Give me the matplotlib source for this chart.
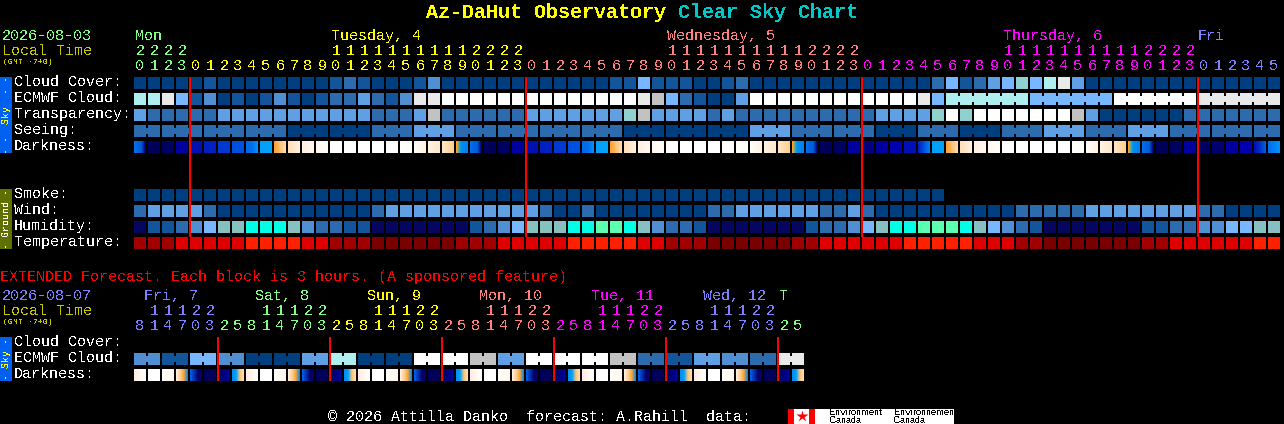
import numpy as np
import matplotlib
matplotlib.use('Agg')
import matplotlib.pyplot as plt
from matplotlib.patches import Rectangle
from matplotlib.colors import to_rgb

plt.rcParams['font.family'] = ['Liberation Mono', 'DejaVu Sans Mono']
plt.rcParams['text.antialiased'] = False
plt.rcParams['text.hinting'] = 'native'
plt.rcParams['text.hinting_factor'] = 1

# 82 one hour columns, first one is 20h on Monday
hours = [20, 21, 22, 23] + list(range(24)) + list(range(24)) + list(range(24)) + [0, 1, 2, 3, 4, 5]

# sky levels, they index into sky_colors
sky_colors = ['#003f7f', '#13559a', '#2c6cae', '#4f8fd2', '#5f9fe3', '#77b7ff',
              '#8fd0d0', '#aeeeee', '#c2c2c2', '#e9e9e9', '#ffffff']
cloud_cover = [0, 0, 0, 0, 0, 1, 0, 0, 0, 0, 0, 0, 0, 0, 1, 2, 1, 0, 0, 0, 1, 3,
               0, 0, 0, 0, 0, 0, 0, 0, 0, 0, 0, 0, 1, 1, 5, 1, 1, 1, 0, 0, 1, 2,
               0, 0, 0, 0, 0, 0, 0, 0, 0, 0, 0, 0, 0, 2, 5, 1, 2, 4, 5, 6, 5, 7, 9, 4,
               0, 0, 0, 0, 0, 0, 0, 0, 0, 0, 0, 0, 0, 0]
ecmwf_cloud = [7, 7, 9, 5, 1, 3, 0, 1, 0, 1, 3, 1, 0, 1, 2, 2, 4, 2, 1, 3, 9, 9,
               10, 10, 10, 10, 10, 10, 10, 10, 10, 10, 10, 10, 10, 10, 9, 8, 5, 2, 1, 0, 0, 4,
               10, 10, 10, 10, 10, 10, 10, 10, 10, 10, 10, 10, 9, 5,
               7, 7, 7, 7, 7, 7, 5, 5, 5, 5, 5, 5, 10, 10, 10, 10, 10, 10, 9, 9, 9, 9, 9, 9]
transparency = [4, 2, 2, 2, 2, 2, 4, 4, 4, 4, 4, 4, 4, 4, 4, 4, 4, 2, 2, 2, 4, 8,
                2, 2, 2, 2, 2, 2, 4, 4, 4, 4, 4, 4, 4, 6, 8, 4, 4, 4, 4, 2, 4, 2,
                2, 2, 2, 2, 2, 2, 2, 2, 2, 4, 4, 4, 4, 6, 10, 6, 10, 10, 10, 10, 10, 10, 10, 8, 4,
                0, 0, 0, 0, 0, 0, 2, 2, 2, 2, 2, 2, 2]
seeing = [2, 2, 2, 2, 2, 2, 2, 2, 2, 2, 2, 0, 0, 0, 0, 0, 0, 2, 2, 2, 4, 4, 4,
          2, 2, 2, 2, 2, 2, 2, 2, 2, 2, 2, 2, 0, 0, 0, 0, 0, 0, 0, 0, 0, 4, 4, 4,
          2, 2, 2, 2, 2, 2, 0, 0, 0, 2, 2, 2, 0, 0, 0, 2, 2, 2, 4, 4, 4, 2, 2, 2,
          4, 4, 4, 2, 2, 2, 2, 2, 2, 2, 2]
smoke = [0] * 58
wind = [2, 4, 4, 4, 4, 2, 0, 0, 0, 0, 0, 0, 0, 0, 0, 0, 0, 2, 4, 4, 4,
        4, 4, 4, 4, 4, 4, 4, 4, 2, 0, 0, 2, 0, 0, 0, 0, 0, 0, 0, 0, 2, 2,
        4, 4, 4, 4, 4, 4, 2, 2, 4, 2, 0, 0, 0, 0, 0, 0, 0, 0, 0, 0,
        2, 2, 2, 2, 2, 4, 4, 4, 4, 4, 4, 4, 4, 2, 2, 0, 0, 0, 0]

humidity_colors = ['#06065f', '#13559a', '#2c6cae', '#4f8fd2', '#77b7ff',
                   '#86c0c0', '#00ffe6', '#5affb0']
humidity = [0, 1, 1, 2, 3, 4, 5, 5, 6, 6, 6, 5, 3, 2, 2, 1, 1, 0, 0, 0, 0,
            0, 0, 0, 1, 2, 3, 4, 5, 5, 5, 6, 6, 7, 7, 6, 5, 3, 2, 2, 1,
            0, 0, 0, 0, 0, 0, 0, 1, 2, 2, 3, 4, 5, 6, 6, 7, 7, 7, 6, 5, 4, 3, 2, 1,
            0, 0, 0, 0, 0, 0, 0, 1, 1, 2, 2, 3, 3, 4, 4, 5, 5]

temp_colors = ['#7a0000', '#a00000', '#e00000', '#ff2000']
temperature = [1, 1, 1, 2, 2, 2, 2, 2, 3, 3, 3, 3, 2, 2, 1, 1, 1, 0, 0, 0, 0,
               0, 0, 1, 1, 1, 2, 2, 2, 2, 2, 3, 3, 3, 3, 3, 2, 2, 1, 1, 1,
               0, 0, 0, 0, 0, 0, 1, 1, 2, 2, 2, 2, 2, 2, 3, 3, 3, 3, 3, 2, 2, 2, 1, 1,
               0, 0, 0, 0, 0, 0, 0, 1, 1, 2, 2, 2, 2, 2, 2, 3, 3]

# darkness, colour stops inside one block, one day from 20h
dark_day = [('#0070f0', '#0068e8', '#0060e0', '#0060e0', '#0030a0', '#000070'), ('#00005a',), ('#000060',), ('#0000a0',),
            ('#0010b0',), ('#0020c0',), ('#0038d0',), ('#0050e0',), ('#0068e8', '#0070f0', '#0090ff'),
            ('#00a0ff',), ('#ffa030', '#ffc070', '#ffe0b0'), ('#ffe0b8', '#fff0dc'), ('#fff0e0', '#fff8f0'),
            ('#fff8f0', '#fffdf8'), ('#ffffff',), ('#ffffff',), ('#ffffff',), ('#ffffff',), ('#ffffff',),
            ('#ffffff', '#fffdf8'), ('#fffdf8', '#fff4e4'), ('#fff2e0', '#ffe8cc'), ('#ffe6c4', '#ffd090'),
            ('#ffa030', '#60b090', '#0090f0', '#0088f0', '#0088f0', '#0080f0')]
# the moon sets later each night, so the early hours of the last nights stay darker
thursday_night = [('#000080',), ('#0000a0',), ('#0000b0',), ('#0010b8',), ('#0020c0', '#0050e0', '#0080f0'),
                  ('#00a0ff',)]
friday_night = [('#000060',), ('#000070',), ('#0000a0',), ('#0000b0',), ('#0010c0', '#0030c8', '#0060e0'),
                ('#0070f0', '#0090ff')]
darkness = dark_day * 2 + dark_day[:4] + thursday_night + dark_day[10:] + dark_day[:4] + friday_night

# extended forecast, 3 hour blocks
ext_hours = [8, 11, 14, 17, 20, 23, 2, 5, 8, 11, 14, 17, 20, 23, 2, 5, 8, 11, 14, 17, 20, 23, 2, 5,
             8, 11, 14, 17, 20, 23, 2, 5, 8, 11, 14, 17, 20, 23, 2, 5, 8, 11, 14, 17, 20, 23, 2, 5]
ext_ecmwf = [3, 3, 1, 1, 5, 5, 3, 3, 0, 0, 0, 0, 4, 4, 7, 7, 0, 0, 0, 0, 10, 10, 10, 10,
             8, 8, 4, 4, 10, 10, 10, 10, 10, 10, 8, 8, 2, 2, 1, 1, 4, 4, 3, 3, 2, 2, 9, 9]
dark_ext = [('#ffeedd', '#ffffff'), ('#ffffff',), ('#ffffff', '#fff4e8'),
            ('#ffeed8', '#ffd090', '#ffa030', '#0090f0'), ('#0060e0', '#0030b0', '#000070', '#000060'),
            ('#00005a',), ('#000060', '#0000a0'), ('#0090f0', '#00a0ff', '#ffc070', '#ffe0b0')]
ext_darkness = dark_ext * 6

fig = plt.figure(figsize=(12.84, 4.24), dpi=100, facecolor='black')
ax = fig.add_axes([0, 0, 1, 1])
ax.set_xlim(0, 1284)
ax.set_ylim(424, 0)
ax.axis('off')

GREEN, YELLOW, PINK, MAGENTA, BLUE = '#80ff80', '#ffff00', '#ff8080', '#ff00ff', '#8080ff'


def put(x, y, s, color='white', size=15, **kw):
    # size in pixels
    ax.text(x, y, s, color=color, fontsize=size * 0.72, va='baseline', **kw)


def box(x, y, w, h, color, z=2):
    ax.add_patch(Rectangle((x, y), w, h, fc=color, ec='none', lw=0, aa=False, zorder=z))


def row(y, levels, colors, groups=None):
    # groups gives a group number per column, same group and level get a small link
    for i, v in enumerate(levels):
        x = 134 + 14 * i
        box(x, y, 12, 12, colors[v])
        if groups is not None and i + 1 < len(levels):
            if groups[i] is not None and groups[i] == groups[i + 1] and levels[i + 1] == v:
                box(x + 12, y + 3, 2, 6, colors[v])


def dark_row(y, blocks):
    for i, stops in enumerate(blocks):
        x = 134 + 14 * i
        rgb = np.array([to_rgb(c) for c in stops])
        pos = np.linspace(0, 1, len(stops))
        t = np.linspace(0, 1, 12)
        if len(stops) == 1:
            img = np.tile(rgb, (1, 12, 1))
        else:
            img = np.stack([np.interp(t, pos, rgb[:, k]) for k in range(3)], axis=1)[None, :, :]
        ax.imshow(img, extent=(x, x + 12, y + 12, y), interpolation='nearest', aspect='auto', zorder=2)
    ax.set_xlim(0, 1284)
    ax.set_ylim(424, 0)


# title
put(426, 18, 'Az-DaHut Observatory', YELLOW, 20, fontweight='bold')
put(678, 18, 'Clear Sky Chart', '#00c8c8', 20, fontweight='bold')

# main header
put(2, 40, '2026-08-03', GREEN)
put(2, 55, 'Local Time', '#c8c800')
put(3, 64, '(GMT -7+0)', '#c8c800', 8)
put(135, 40, 'Mon', GREEN)
put(331, 40, 'Tuesday, 4', YELLOW)
put(667, 40, 'Wednesday, 5', PINK)
put(1003, 40, 'Thursday, 6', MAGENTA)
put(1198, 40, 'Fri', BLUE)

day_cols = [(4, GREEN), (28, YELLOW), (52, PINK), (76, MAGENTA), (82, BLUE)]
for i, h in enumerate(hours):
    c = [col for end, col in day_cols if i < end][0]
    x = 134 + 14 * i + 6
    put(x, 70, str(h % 10), c, ha='center')
    if h >= 10:
        put(x, 55, str(h // 10), c, ha='center')

# side bars
box(0, 77, 12, 76, '#0060f0')
box(0, 189, 12, 60, '#5f7000')
box(0, 337, 12, 44, '#0060f0')
ax.text(6, 115, '- -  Sky  - -', color=YELLOW, fontsize=7.2, rotation=90, ha='center', va='center', zorder=3)
ax.text(6, 219, '- Ground -', color='white', fontsize=7.2, rotation=90, ha='center', va='center', zorder=3)
ax.text(6, 359, '- Sky -', color=YELLOW, fontsize=7.2, rotation=90, ha='center', va='center', zorder=3)

labels = ['Cloud Cover:', 'ECMWF Cloud:', 'Transparency:', 'Seeing:', 'Darkness:']
for k, s in enumerate(labels):
    put(14, 86 + 16 * k, s)
labels = ['Smoke:', 'Wind:', 'Humidity:', 'Temperature:']
for k, s in enumerate(labels):
    put(14, 198 + 16 * k, s)

seeing_groups = [0, 0] + [(i - 2) // 3 + 1 for i in range(2, 82)]
ecmwf_groups = [None] * 58 + [(i - 58) // 6 for i in range(58, 82)]
row(77, cloud_cover, sky_colors)
row(93, ecmwf_cloud, sky_colors, ecmwf_groups)
row(109, transparency, sky_colors)
row(125, seeing, sky_colors, seeing_groups)
dark_row(141, darkness)
row(189, smoke, sky_colors)
row(205, wind, sky_colors)
row(221, humidity, humidity_colors)
row(237, temperature, temp_colors)

for x in [189, 525, 861, 1197]:
    box(x, 77, 2, 160, '#ff0000', 4)

# extended forecast
put(0, 281, 'EXTENDED Forecast. Each block is 3 hours. (A sponsored feature)', '#ff0000')
put(2, 300, '2026-08-07', BLUE)
put(2, 315, 'Local Time', '#c8c800')
put(3, 324, '(GMT -7+0)', '#c8c800', 8)
ext_days = [(144, 'Fri, 7', BLUE), (255, 'Sat, 8', GREEN), (367, 'Sun, 9', YELLOW),
            (479, 'Mon, 10', PINK), (591, 'Tue, 11', MAGENTA), (703, 'Wed, 12', BLUE), (779, 'T', GREEN)]
for x, s, c in ext_days:
    put(x, 300, s, c)

ext_cols = [(6, BLUE), (14, GREEN), (22, YELLOW), (30, PINK), (38, MAGENTA), (46, BLUE), (48, GREEN)]
for i, h in enumerate(ext_hours):
    c = [col for end, col in ext_cols if i < end][0]
    x = 134 + 14 * i + 6
    put(x, 330, str(h % 10), c, ha='center')
    if h >= 10:
        put(x, 315, str(h // 10), c, ha='center')

put(14, 346, 'Cloud Cover:')
put(14, 362, 'ECMWF Cloud:')
put(14, 378, 'Darkness:')
row(353, ext_ecmwf, sky_colors, [i // 2 for i in range(48)])
dark_row(369, ext_darkness)
for x in [217, 329, 441, 553, 665, 777]:
    box(x, 337, 2, 44, '#ff0000', 4)

# footer
put(328, 421, '© 2026 Attilla Danko  forecast: A.Rahill  data:')
box(788, 409, 27, 15, 'white')
box(788, 409, 6, 15, '#ff0000')
box(809, 409, 6, 15, '#ff0000')
ax.plot([801.5], [416], marker='*', ms=9, mfc='#ff0000', mec='none', zorder=3)
box(815, 409, 139, 15, 'white')
for x, s in [(829, 'Environment'), (894, 'Environnement')]:
    ax.text(x, 415, s, color='black', fontsize=6.2, family='Liberation Sans', va='baseline', zorder=3)
for x in [829, 894]:
    ax.text(x, 423, 'Canada', color='black', fontsize=6.2, family='Liberation Sans', va='baseline', zorder=3)

fig.savefig('out.png', dpi=100, facecolor='black')
